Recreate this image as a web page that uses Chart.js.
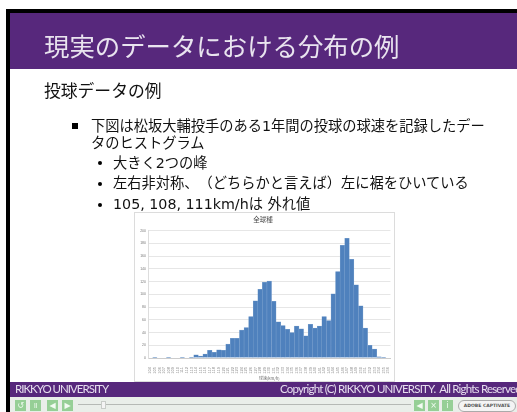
<!DOCTYPE html>
<html lang="ja">
<head>
<meta charset="utf-8">
<script src="https://cdn.jsdelivr.net/npm/chart.js@4"></script>
<style>
html, body { margin: 0; padding: 0; background: #fff; }
body { width: 517px; height: 412px; overflow: hidden; position: relative; font-family: "DejaVu Sans", "Noto Sans CJK JP", sans-serif; text-spacing-trim: space-all; color: #111; }
div { position: absolute; white-space: nowrap; }
.edge { background: #000; }
.btn { top: 400px; width: 11px; height: 11px; background: #96cf96; color: #f2fbf2; font: 8px/11px "DejaVu Sans"; text-align: center; filter: blur(0.4px); }
.txt { font-size: 14.25px; line-height: 18px; filter: blur(0.3px); }
.dot { left: 98px; width: 4px; height: 4px; border-radius: 50%; background: #000; }
</style>
</head>
<body>
<div class="edge" style="left:6px;top:9px;width:511px;height:4px"></div>
<div class="edge" style="left:6px;top:9px;width:4px;height:403px"></div>
<div style="left:10px;top:13px;width:507px;height:56px;background:#57287c"></div>
<div style="left:44px;top:29px;font-size:25.4px;line-height:36px;color:#e9e4ef;filter:blur(0.3px)">現実のデータにおける分布の例</div>
<div class="txt" style="left:44px;top:81px;font-size:16.8px;line-height:20px">投球データの例</div>
<div style="left:72px;top:123px;width:6px;height:6px;background:#000"></div>
<div class="txt" style="left:91px;top:117px">下図は松坂大輔投手のある1年間の投球の球速を記録したデー</div>
<div class="txt" style="left:91px;top:134px">タのヒストグラム</div>
<div class="txt" style="left:113px;top:154px">大きく2つの峰</div>
<div class="txt" style="left:113px;top:174px">左右非対称、（どちらかと言えば）左に裾をひいている</div>
<div class="txt" style="left:113px;top:195px">105, 108, 111km/hは 外れ値</div>
<div class="dot" style="top:161px"></div>
<div class="dot" style="top:182px"></div>
<div class="dot" style="top:203px"></div>

<div style="left:134px;top:212px;width:259px;height:168px;border:1px solid #dcdcdc;background:#fff;filter:blur(0.4px)">
  <canvas id="chart" width="259" height="168" style="display:block"></canvas>
</div>

<div style="left:10px;top:382px;width:507px;height:15px;background:#57287c"></div>
<div style="left:15px;top:381px;font:11.5px/16px Lato;letter-spacing:-1px;color:#e6deee">RIKKYO UNIVERSITY</div>
<div style="left:280px;top:381px;font:11.5px/16px Lato;letter-spacing:-0.8px;color:#e6deee">Copyright (C) RIKKYO UNIVERSITY.&nbsp; All Rights Reserved</div>
<div style="left:10px;top:397px;width:507px;height:15px;background:#e9eee9"></div>
<div class="btn" style="left:15px">↺</div>
<div class="btn" style="left:30px">॥</div>
<div class="btn" style="left:47px">◀</div>
<div class="btn" style="left:62px">▶</div>
<div style="left:78px;top:404px;width:333px;height:1px;background:#b5b9b5"></div>
<div style="left:101px;top:401px;width:3px;height:6px;background:#f4f4f4;border:1px solid #c8ccc8"></div>
<div class="btn" style="left:414px">◀</div>
<div class="btn" style="left:428px">×</div>
<div class="btn" style="left:442px">i</div>
<div style="left:458px;top:400px;width:56px;height:10px;border:1px solid #aaa;border-radius:6px;background:#f4f4f4;font:bold 4.5px/10px 'DejaVu Sans';text-align:center;color:#555">ADOBE CAPTIVATE</div>

<script>
const chartTitle = "全球種";
const xTitle = "球速(km/h)";
const speeds = [104,105,106,107,108,109,110,111,112,113,114,115,116,117,118,119,120,121,122,123,124,125,126,127,128,129,130,131,132,133,134,135,136,137,138,139,140,141,142,143,144,145,146,147,148,149,150,151,152,153,154,155,156];
const counts = [0,1,0,0,1,0,0,1,0,1,5,3,6,12,9,13,12,22,31,31,44,48,65,90,108,119,121,89,57,51,45,40,50,46,35,53,47,50,65,59,101,136,177,188,155,115,82,47,20,14,2,1,0];
const yTicks = [0,20,40,60,80,100,120,140,160,180,200];

let ctx = document.getElementById("chart");
new Chart(ctx, {
    type: "bar",
    data: {
        labels: speeds,
        datasets: [{
            data: counts,
            backgroundColor: "#4f81bd",
            borderColor: "#7ea3cf",
            borderWidth: 0.5,
            barPercentage: 1,
            categoryPercentage: 1
        }]
    },
    options: {
        responsive: false,
        animation: false,
        layout: { padding: { top: 3, right: 3, left: 0, bottom: 0 } },
        plugins: {
            legend: { display: false },
            tooltip: { enabled: false },
            title: {
                display: true,
                text: chartTitle,
                color: "#444",
                font: { size: 6.5, family: "Noto Sans CJK JP", weight: "normal" },
                padding: { top: 0, bottom: 7 }
            }
        },
        scales: {
            x: {
                afterFit: axis => { axis.height = 23; },
                grid: { display: false },
                border: { color: "#ccc" },
                ticks: {
                    autoSkip: false,
                    maxRotation: 90,
                    minRotation: 90,
                    padding: 1,
                    color: "#888",
                    font: { size: 4, family: "Liberation Sans" }
                },
                title: {
                    display: true,
                    text: xTitle,
                    color: "#666",
                    font: { size: 4, family: "Noto Sans CJK JP" },
                    padding: { top: 1, bottom: 0 }
                }
            },
            y: {
                min: 0,
                max: 200,
                afterFit: axis => { axis.width = 13; },
                afterBuildTicks: axis => { axis.ticks = yTicks.map(v => ({ value: v })); },
                grid: { color: "#e6e6e6", drawTicks: false },
                border: { color: "#ddd" },
                ticks: {
                    padding: 2,
                    color: "#777",
                    font: { size: 3.5, family: "Liberation Sans" }
                }
            }
        }
    }
});
</script>
</body>
</html>
